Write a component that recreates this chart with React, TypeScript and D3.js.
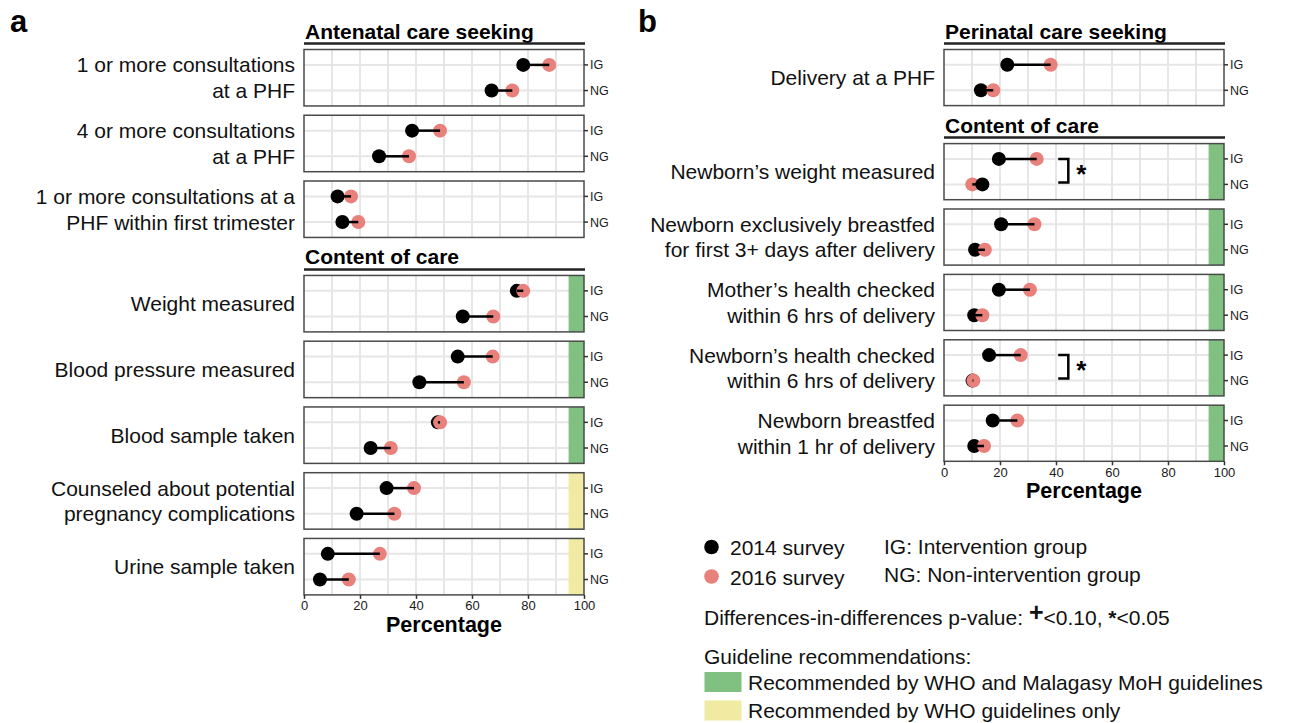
import React, { useRef, useEffect } from "react";
import * as d3 from "d3";

// ---- panel a: antenatal ----
const aSeekLabels = [
    ["1 or more consultations", "at a PHF"],
    ["4 or more consultations", "at a PHF"],
    ["1 or more consultations at a", "PHF within first trimester"],
];
const aSeekIG14 = [78.3, 38.6, 12.0];
const aSeekIG16 = [87.6, 48.6, 16.8];
const aSeekNG14 = [67.0, 26.8, 13.7];
const aSeekNG16 = [74.4, 37.5, 19.4];

const aCareLabels = [
    ["Weight measured"],
    ["Blood pressure measured"],
    ["Blood sample taken"],
    ["Counseled about potential", "pregnancy complications"],
    ["Urine sample taken"],
];
const aCareIG14 = [76.0, 54.9, 47.8, 29.5, 8.5];
const aCareIG16 = [78.3, 67.4, 48.6, 39.3, 27.1];
const aCareNG14 = [56.7, 41.2, 23.8, 18.8, 5.7];
const aCareNG16 = [67.6, 57.1, 31.0, 32.3, 16.0];
const aCareGuide = ["both", "both", "both", "who", "who"];
const aCareSig = ["", "", "", "", ""];

// ---- panel b: perinatal ----
const bSeekLabels = [["Delivery at a PHF"]];
const bSeekIG14 = [22.6];
const bSeekIG16 = [38.1];
const bSeekNG14 = [13.2];
const bSeekNG16 = [17.6];

const bCareLabels = [
    ["Newborn\u2019s weight measured"],
    ["Newborn exclusively breastfed", "for first 3+ days after delivery"],
    ["Mother\u2019s health checked", "within 6 hrs of delivery"],
    ["Newborn\u2019s health checked", "within 6 hrs of delivery"],
    ["Newborn breastfed", "within 1 hr of delivery"],
];
const bCareIG14 = [19.6, 20.4, 19.6, 16.1, 17.4];
const bCareIG16 = [33.1, 32.3, 30.7, 27.4, 26.2];
const bCareNG14 = [13.7, 11.1, 10.8, 10.2, 10.8];
const bCareNG16 = [10.1, 14.6, 13.7, 10.5, 14.3];
const bCareGuide = ["both", "both", "both", "both", "both"];
const bCareSig = ["*", "", "", "*", ""];

const groups = ["IG", "NG"];
const xTicks = [0, 20, 40, 60, 80, 100];
const gridTicks = [10, 20, 30, 40, 50, 60, 70, 80, 90];

const FONT = "Liberation Sans, Arial, Helvetica, sans-serif";
const RED = "#e8807c";
const GREEN = "#80c181";
const YELLOW = "#f0eaa2";

const makeSection = (title: string, labels: any, ig14: any, ig16: any, ng14: any, ng16: any, guide?: any, sig?: any) =>
    labels.map((l: any, i: number) => ({
        title: i === 0 ? title : null,
        label: l,
        ig: [ig14[i], ig16[i]],
        ng: [ng14[i], ng16[i]],
        guide: guide ? guide[i] : null,
        sig: sig ? sig[i] : "",
    }));

const App = () => {
    const svgRef = useRef(null);

    useEffect(() => {
        const svg = d3.select(svgRef.current);
        svg.selectAll("*").remove();

        const drawChart = (left: number, sections: any[], pitch: number, letter: string, letterX: number) => {
            const x = d3.scaleLinear().domain([0, 100]).range([left, left + 280]);
            const ph = pitch - 9.3;
            const g = svg.append("g");

            g.append("text")
                .attr("x", letterX)
                .attr("y", 31.5)
                .attr("font-family", FONT)
                .attr("font-weight", "bold")
                .attr("font-size", 31)
                .text(letter);

            let lineY = 43.5;
            let bottom = 0;
            sections.forEach((rows: any[], si: number) => {
                if (si > 0) lineY = bottom + 32;
                g.append("text")
                    .attr("x", x(0) + 1)
                    .attr("y", lineY - 5)
                    .attr("font-family", FONT)
                    .attr("font-weight", "bold")
                    .attr("font-size", 21)
                    .text(rows[0].title);
                g.append("line")
                    .attr("x1", x(0))
                    .attr("x2", x(100) + 1)
                    .attr("y1", lineY)
                    .attr("y2", lineY)
                    .attr("stroke", "#222")
                    .attr("stroke-width", 2.5);

                rows.forEach((r: any, ri: number) => {
                    const top = lineY + 6 + ri * pitch;
                    bottom = top + ph;
                    const y = d3.scalePoint().domain(groups).range([top, bottom]).padding(0.6);
                    const p = g.append("g");

                    p.append("rect")
                        .attr("x", x(0))
                        .attr("y", top)
                        .attr("width", x(100) - x(0))
                        .attr("height", ph)
                        .attr("fill", "white");

                    gridTicks.forEach((t) => {
                        p.append("line")
                            .attr("x1", x(t))
                            .attr("x2", x(t))
                            .attr("y1", top)
                            .attr("y2", bottom)
                            .attr("stroke", "#e6e6e6")
                            .attr("stroke-width", 2);
                    });
                    groups.forEach((gr) => {
                        p.append("line")
                            .attr("x1", x(0))
                            .attr("x2", x(100))
                            .attr("y1", y(gr))
                            .attr("y2", y(gr))
                            .attr("stroke", "#e6e6e6")
                            .attr("stroke-width", 2);
                    });

                    if (r.guide) {
                        p.append("rect")
                            .attr("x", x(94.5))
                            .attr("y", top)
                            .attr("width", x(100) - x(94.5))
                            .attr("height", ph)
                            .attr("fill", r.guide === "both" ? GREEN : YELLOW);
                    }

                    // points: smaller value drawn first, then segment
                    groups.forEach((gr) => {
                        const vals = gr === "IG" ? r.ig : r.ng;
                        const pts = [
                            { v: vals[0], c: "black" },
                            { v: vals[1], c: RED },
                        ].sort((a, b) => a.v - b.v);
                        pts.forEach((pt) => {
                            p.append("circle")
                                .attr("cx", x(pt.v))
                                .attr("cy", y(gr))
                                .attr("r", 7)
                                .attr("fill", pt.c);
                        });
                        p.append("line")
                            .attr("x1", x(vals[0]))
                            .attr("x2", x(vals[1]))
                            .attr("y1", y(gr))
                            .attr("y2", y(gr))
                            .attr("stroke", "black")
                            .attr("stroke-width", 2.5);
                    });

                    if (r.sig) {
                        const yi = y("IG")!;
                        const yn = y("NG")! - 2;
                        p.append("path")
                            .attr("d", `M${x(40.8)},${yi}H${x(44.4)}V${yn}H${x(40.8)}`)
                            .attr("fill", "none")
                            .attr("stroke", "black")
                            .attr("stroke-width", 2.5);
                        p.append("text")
                            .attr("x", x(49))
                            .attr("y", (yi + yn) / 2 + 12)
                            .attr("text-anchor", "middle")
                            .attr("font-family", FONT)
                            .attr("font-weight", "bold")
                            .attr("font-size", 26)
                            .text(r.sig);
                    }

                    p.append("rect")
                        .attr("x", x(0))
                        .attr("y", top)
                        .attr("width", x(100) - x(0))
                        .attr("height", ph)
                        .attr("fill", "none")
                        .attr("stroke", "#4a4a4a")
                        .attr("stroke-width", 1.5);

                    // right axis IG / NG
                    groups.forEach((gr) => {
                        p.append("line")
                            .attr("x1", x(100))
                            .attr("x2", x(100) + 4)
                            .attr("y1", y(gr))
                            .attr("y2", y(gr))
                            .attr("stroke", "#333")
                            .attr("stroke-width", 1.5);
                        p.append("text")
                            .attr("x", x(100) + 6)
                            .attr("y", y(gr)! + 4.5)
                            .attr("font-family", FONT)
                            .attr("font-size", 12.5)
                            .attr("fill", "#1a1a1a")
                            .text(gr);
                    });

                    // left label
                    const lines = r.label as string[];
                    const mid = (top + bottom) / 2;
                    lines.forEach((ln, li) => {
                        p.append("text")
                            .attr("x", x(0) - 9)
                            .attr("y", mid + (li - (lines.length - 1) / 2) * 25.7 + 7.5)
                            .attr("text-anchor", "end")
                            .attr("font-family", FONT)
                            .attr("font-size", 21)
                            .attr("fill", "#111")
                            .text(ln);
                    });
                });
            });

            // bottom axis
            const ax = g.append("g").attr("transform", `translate(0,${bottom})`);
            ax.call(d3.axisBottom(x).tickValues(xTicks).tickSize(4).tickPadding(2))
                .call((s: any) => s.select(".domain").remove())
                .call((s: any) =>
                    s.selectAll(".tick line").attr("stroke", "#333").attr("stroke-width", 1.5),
                )
                .call((s: any) =>
                    s.selectAll(".tick text")
                        .attr("font-family", FONT)
                        .attr("font-size", 13)
                        .attr("fill", "#1a1a1a"),
                );
            g.append("text")
                .attr("x", x(50))
                .attr("y", bottom + 37)
                .attr("text-anchor", "middle")
                .attr("font-family", FONT)
                .attr("font-weight", "bold")
                .attr("font-size", 21.5)
                .text("Percentage");
        };

        drawChart(
            304,
            [
                makeSection("Antenatal care seeking", aSeekLabels, aSeekIG14, aSeekIG16, aSeekNG14, aSeekNG16),
                makeSection("Content of care", aCareLabels, aCareIG14, aCareIG16, aCareNG14, aCareNG16, aCareGuide, aCareSig),
            ],
            65.75,
            "a",
            10,
        );
        drawChart(
            944,
            [
                makeSection("Perinatal care seeking", bSeekLabels, bSeekIG14, bSeekIG16, bSeekNG14, bSeekNG16),
                makeSection("Content of care", bCareLabels, bCareIG14, bCareIG16, bCareNG14, bCareNG16, bCareGuide, bCareSig),
            ],
            65.4,
            "b",
            638,
        );

        // legend
        const lg = svg.append("g").attr("font-family", FONT).attr("font-size", 21).attr("fill", "#111");
        const survey = [
            { label: "2014 survey", c: "black" },
            { label: "2016 survey", c: RED },
        ];
        const groupNames = ["IG: Intervention group", "NG: Non-intervention group"];
        survey.forEach((s, i) => {
            lg.append("circle").attr("cx", 711.5).attr("cy", 547 + i * 29.5).attr("r", 7.3).attr("fill", s.c);
            lg.append("text").attr("x", 730).attr("y", 555 + i * 29.5).text(s.label);
            lg.append("text").attr("x", 884).attr("y", 554 + i * 28).text(groupNames[i]);
        });
        const p = lg.append("text").attr("x", 704).attr("y", 625);
        p.append("tspan").text("Differences-in-differences p-value: ");
        p.append("tspan").attr("font-weight", "bold").attr("font-size", 25).attr("dy", -4).text("+");
        p.append("tspan").attr("dy", 4).text("<0.10, ");
        p.append("tspan").attr("font-weight", "bold").text("*");
        p.append("tspan").text("<0.05");

        lg.append("text").attr("x", 704).attr("y", 664).text("Guideline recommendations:");
        const guides = [
            { label: "Recommended by WHO and Malagasy MoH guidelines", c: GREEN },
            { label: "Recommended by WHO guidelines only", c: YELLOW },
        ];
        guides.forEach((gd, i) => {
            lg.append("rect").attr("x", 704.5).attr("y", 672 + i * 28.5).attr("width", 37).attr("height", 20).attr("fill", gd.c);
            lg.append("text").attr("x", 748).attr("y", 690 + i * 28).text(gd.label);
        });
    }, []);

    return (
        <svg
            ref={svgRef}
            width={1290}
            height={723}
            style={{ position: "absolute", left: 0, top: 0, background: "white" }}
        ></svg>
    );
};

export default App;
